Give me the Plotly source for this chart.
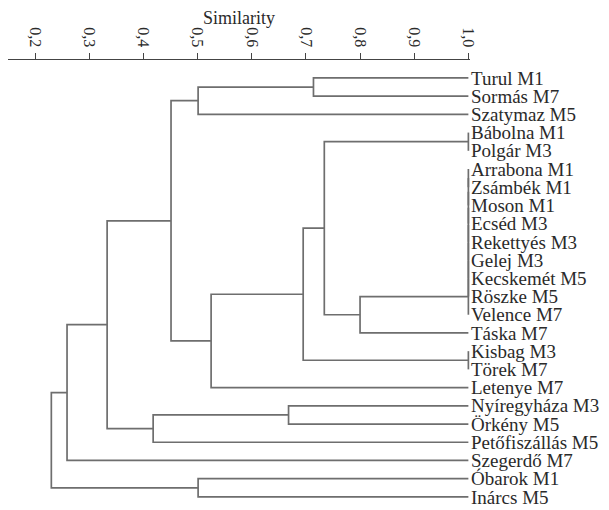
import plotly.graph_objects as go

labels = ["Turul M1", "Sormás M7", "Szatymaz M5", "Bábolna M1", "Polgár M3",
          "Arrabona M1", "Zsámbék M1", "Moson M1", "Ecséd M3", "Rekettyés M3",
          "Gelej M3", "Kecskemét M5", "Röszke M5", "Velence M7", "Táska M7",
          "Kisbag M3", "Törek M7", "Letenye M7", "Nyíregyháza M3", "Örkény M5",
          "Petőfiszállás M5", "Szegerdő M7", "Óbarok M1", "Inárcs M5"]

# merges: (child_a, child_b, similarity); new node ids start at len(labels)
merge_a = [3, 5, 25, 26, 27, 28, 29, 30, 31, 15, 32, 24, 35, 0, 37, 36, 38, 18, 41, 40, 43, 22, 44]
merge_b = [4, 6, 7, 8, 9, 10, 11, 12, 13, 16, 14, 34, 33, 1, 2, 17, 39, 19, 20, 42, 21, 23, 45]
merge_sim = [1.0, 1.0, 1.0, 1.0, 1.0, 1.0, 1.0, 1.0, 1.0, 1.0, 0.80, 0.734, 0.695,
             0.714, 0.501, 0.525, 0.451, 0.668, 0.418, 0.333, 0.259, 0.501, 0.230]

tick_vals = [0.2, 0.3, 0.4, 0.5, 0.6, 0.7, 0.8, 0.9, 1.0]
tick_text = ["0,2", "0,3", "0,4", "0,5", "0,6", "0,7", "0,8", "0,9", "1,0"]

n = len(labels)
node_x = {i: 1.0 for i in range(n)}
node_y = {i: float(i) for i in range(n)}
xs, ys = [], []
for k, (a, b, s) in enumerate(zip(merge_a, merge_b, merge_sim)):
    nid = n + k
    node_x[nid] = s
    node_y[nid] = (node_y[a] + node_y[b]) / 2
    xs += [node_x[a], s, s, node_x[b], None]
    ys += [node_y[a], node_y[a], node_y[b], node_y[b], None]

fig = go.Figure()
fig.add_trace(go.Scatter(x=xs, y=ys, mode="lines",
                         line=dict(color="#6e6e6e", width=1.7),
                         hoverinfo="skip", showlegend=False, cliponaxis=False))

fig.update_layout(
    width=609, height=510,
    margin=dict(l=8, r=139, t=60, b=2),
    paper_bgcolor="white", plot_bgcolor="white",
    font=dict(family="Liberation Serif", color="#2a2a2a"),
    xaxis=dict(side="top", range=[0.15, 1.003], tickvals=tick_vals, ticktext=tick_text,
               tickangle=90, ticks="outside", ticklen=6, tickcolor="#444",
               showline=True, linecolor="#444", linewidth=1.2,
               showgrid=False, zeroline=False, tickfont=dict(size=16)),
    yaxis=dict(side="right", range=[23.5, -0.984], tickvals=list(range(n)), ticktext=labels,
               ticks="", showline=False, showgrid=False, zeroline=False,
               tickfont=dict(size=19)),
    annotations=[dict(text="Similarity", xref="paper", yref="paper", x=0.5, y=1,
                      xanchor="center", yanchor="middle", yshift=42, showarrow=False,
                      font=dict(size=18, color="#2a2a2a"))],
)
fig.write_html("out.html")
